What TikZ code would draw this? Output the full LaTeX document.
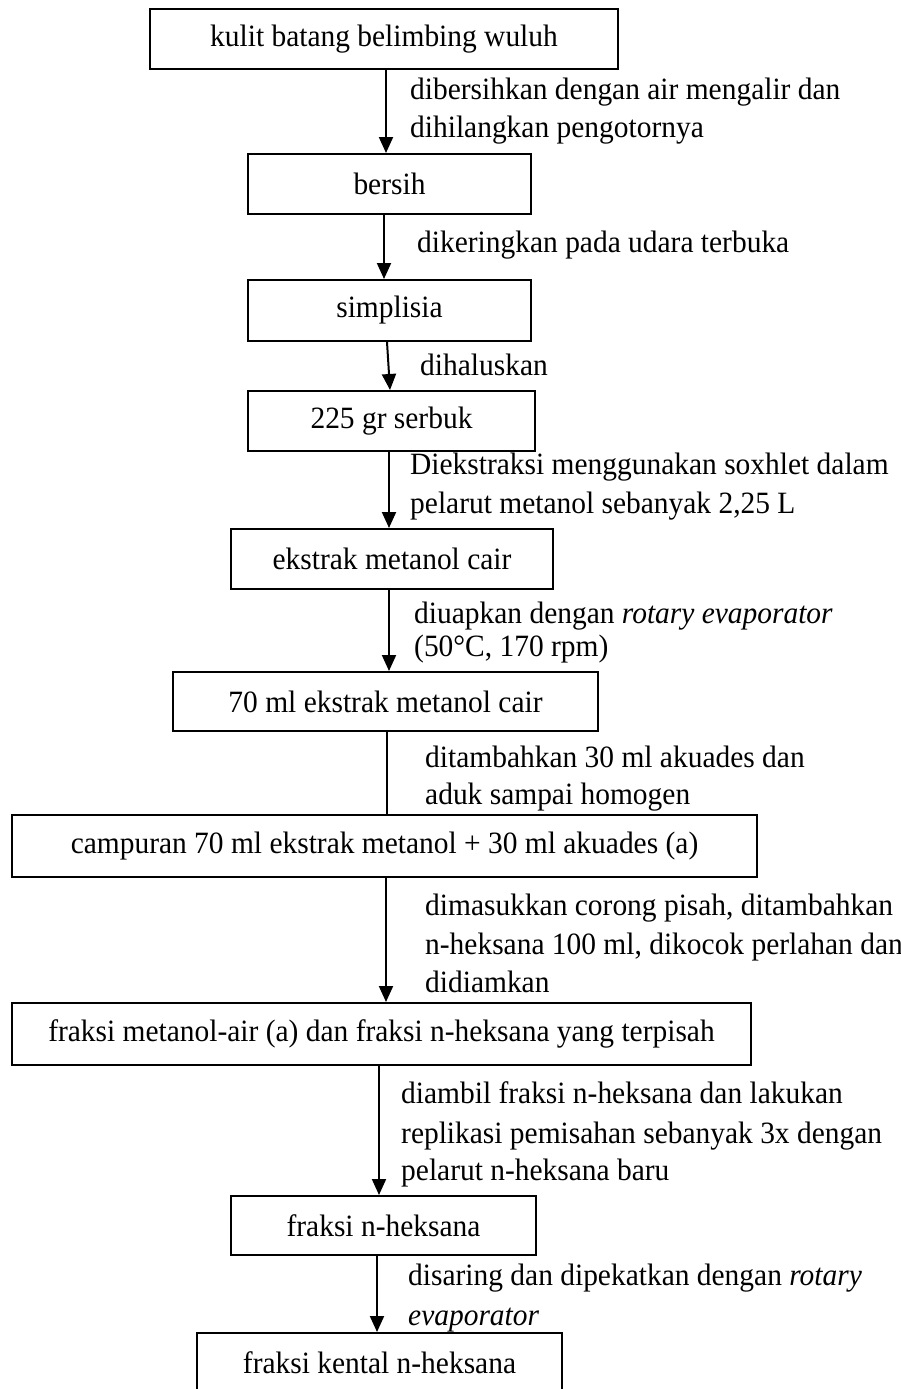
\documentclass[tikz,border=0pt]{standalone}
\usepackage{fontspec}
\setmainfont{Liberation Serif}[FakeStretch=0.95]
\usetikzlibrary{arrows.meta}
\begin{document}
\begin{tikzpicture}[x=1pt,y=-1pt,
  box/.style={draw,line width=2pt,minimum height=60pt,inner sep=0pt,
    font=\fontsize{31}{38}\selectfont},
  lbl/.style={anchor=base west,inner sep=0pt,align=left,
    font=\fontsize{31}{38}\selectfont},
  arr/.style={line width=2pt,-{Triangle[length=16pt,width=14pt]}},
  link/.style={line width=2pt}]
\useasboundingbox (0,0) rectangle (901,1389);

% process steps
\node[box,minimum width=468pt] (b1) at (384,39) {kulit batang belimbing wuluh};
\node[box,minimum width=283pt] (b2) at (389.5,184) {bersih};
\node[box,minimum width=283pt,minimum height=61pt] (b3) at (389.5,310.5) {simplisia};
\node[box,minimum width=287pt] (b4) at (391.5,421) {225 gr serbuk};
\node[box,minimum width=322pt] (b5) at (392,559) {ekstrak metanol cair};
\node[box,minimum width=425pt,minimum height=59pt] (b6) at (385.5,701.5) {70 ml ekstrak metanol cair};
\node[box,minimum width=745pt,minimum height=62pt] (b7) at (384.5,846) {campuran 70 ml ekstrak metanol + 30 ml akuades (a)};
\node[box,minimum width=739pt,minimum height=62pt] (b8) at (381.5,1034) {fraksi metanol-air (a) dan fraksi n-heksana yang terpisah};
\node[box,minimum width=305pt,minimum height=59pt] (b9) at (383.5,1225.5) {fraksi n-heksana};
\node[box,minimum width=365pt] (b10) at (379.5,1363) {fraksi kental n-heksana};

% columns of the connectors
\coordinate (x1) at (386,0);
\coordinate (x2) at (384,0);
\coordinate (x3a) at (387,0);
\coordinate (x3b) at (390,0);
\coordinate (x4) at (389,0);
\coordinate (x5) at (389,0);
\coordinate (x6) at (387,0);
\coordinate (x7) at (386,0);
\coordinate (x8) at (379,0);
\coordinate (x9) at (377,0);

\draw[arr] (b1.south -| x1) -- (b2.north -| x1);
\draw[arr] (b2.south -| x2) -- (b3.north -| x2);
\draw[arr] (b3.south -| x3a) -- (b4.north -| x3b);
\draw[arr] (b4.south -| x4) -- (b5.north -| x4);
\draw[arr] (b5.south -| x5) -- (b6.north -| x5);
\draw[link] (b6.south -| x6) -- (b7.north -| x6);
\draw[arr] (b7.south -| x7) -- (b8.north -| x7);
\draw[arr] (b8.south -| x8) -- (b9.north -| x8);
\draw[arr] (b9.south -| x9) -- (b10.north -| x9);

% treatment notes (placed by the baseline of their last line)
\node[lbl] (l1) at (410,137) {dibersihkan dengan air mengalir dan\\dihilangkan pengotornya};
\node[lbl] (l2) at (417,252) {dikeringkan pada udara terbuka};
\node[lbl] (l3) at (420,375) {dihaluskan};
\node[lbl] (l4) at (410,513) {Diekstraksi menggunakan soxhlet dalam\\[1pt]pelarut metanol sebanyak 2,25 L};
\node[lbl] (l5) at (414,656) {diuapkan dengan \textit{rotary evaporator}\\[-5pt](50°C, 170 rpm)};
\node[lbl] (l6) at (425,804) {ditambahkan 30 ml akuades dan\\[-1pt]aduk sampai homogen};
\node[lbl] (l7) at (425,992) {dimasukkan corong pisah, ditambahkan\\[1pt]n-heksana 100 ml, dikocok perlahan dan\\didiamkan};
\node[lbl] (l8) at (401,1180) {diambil fraksi n-heksana dan lakukan\\[2pt]replikasi pemisahan sebanyak 3x dengan\\[-1pt]pelarut n-heksana baru};
\node[lbl] (l9) at (408,1325) {disaring dan dipekatkan dengan \textit{rotary}\\[2pt]\textit{evaporator}};
\end{tikzpicture}
\end{document}
